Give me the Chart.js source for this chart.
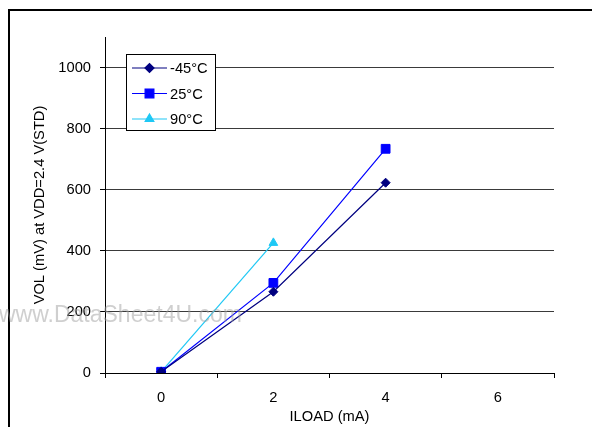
<!DOCTYPE html>
<html>
<head>
<meta charset="utf-8">
<script src="https://cdn.jsdelivr.net/npm/chart.js@4/dist/chart.umd.min.js"></script>
<style>
  html, body { margin: 0; padding: 0; background: #fff; }
  #wrap { width: 592px; height: 427px; }
</style>
</head>
<body>
<div id="wrap"><canvas id="grafico" width="592" height="427"></canvas></div>
<script>
// valores
const cargas = ['0', '2', '4', '6'];
const serieNomes = ['-45°C', '25°C', '90°C'];
const volMenos45 = [4, 266, 623];
const vol25 = [4, 295, 734];
const vol90 = [4, 426];
const yTicks = [0, 200, 400, 600, 800, 1000];

const cores = ['#000080', '#0000ff', '#1ec8f5'];
const estilos = ['rectRot', 'rect', 'triangle'];
const raios = [4.5, 6.2, 5];
const fonte = "'Liberation Sans', Arial, sans-serif";
const tam = 14.7;

const moldura = {
    id: 'moldura',
    beforeDraw(chart) {
        const ctx = chart.ctx;
        ctx.save();
        ctx.fillStyle = '#fff';
        ctx.fillRect(0, 0, chart.width, chart.height);
        ctx.fillStyle = '#000';
        ctx.fillRect(8, 9, chart.width - 8, 2);
        ctx.fillRect(8, 9, 2, chart.height - 9);
        ctx.restore();
    }
};

const legendaInterna = {
    id: 'legendaInterna',
    afterDraw(chart) {
        const ctx = chart.ctx;
        ctx.save();
        ctx.fillStyle = '#fff';
        ctx.fillRect(126.5, 54.5, 89, 76);
        ctx.strokeStyle = '#000';
        ctx.lineWidth = 1;
        ctx.strokeRect(126.5, 54.5, 89, 76);
        chart.data.datasets.forEach((ds, i) => {
            const y = 68 + i * 25.5;
            ctx.strokeStyle = ds.borderColor;
            ctx.lineWidth = 1.2;
            ctx.beginPath();
            ctx.moveTo(132, y);
            ctx.lineTo(167, y);
            ctx.stroke();
            ctx.fillStyle = ds.backgroundColor;
            ctx.strokeStyle = ds.borderColor;
            Chart.helpers.drawPoint(ctx, { pointStyle: ds.pointStyle, radius: ds.pointRadius, rotation: 0, borderWidth: 1 }, 149.5, y);
            ctx.fillStyle = '#000';
            ctx.font = tam + 'px ' + fonte;
            ctx.textBaseline = 'middle';
            ctx.textAlign = 'left';
            ctx.fillText(ds.label, 170, y + 1);
        });
        // marca d'agua
        ctx.font = '23px ' + fonte;
        ctx.fillStyle = 'rgba(160,160,160,0.5)';
        ctx.textBaseline = 'alphabetic';
        ctx.fillText('www.DataSheet4U.com', -1, 322);
        ctx.restore();
    }
};

const series = [volMenos45, vol25, vol90];
const ctx = document.getElementById('grafico').getContext('2d');

new Chart(ctx, {
    type: 'line',
    data: {
        labels: cargas,
        datasets: series.map((dados, i) => ({
            label: serieNomes[i],
            data: dados,
            borderColor: cores[i],
            backgroundColor: cores[i],
            borderWidth: 1.2,
            pointStyle: estilos[i],
            pointRadius: raios[i],
            pointBorderWidth: 1,
            tension: 0
        }))
    },
    options: {
        responsive: false,
        animation: false,
        layout: { padding: { top: 37, right: 38, left: 0, bottom: 0 } },
        plugins: { legend: { display: false }, tooltip: { enabled: false } },
        scales: {
            x: {
                type: 'category',
                offset: true,
                afterFit: scale => { scale.height = 54; },
                grid: { offset: true, drawOnChartArea: false, tickLength: 5, color: '#000' },
                border: { color: '#000', width: 1 },
                ticks: { color: '#000', font: { family: fonte, size: tam }, padding: 11, maxRotation: 0 },
                title: {
                    display: true,
                    text: 'ILOAD (mA)',
                    color: '#000',
                    font: { family: fonte, size: tam },
                    padding: { top: 0, bottom: 1 }
                }
            },
            y: {
                min: 0,
                max: 1100,
                afterFit: scale => { scale.width = 105; },
                afterBuildTicks: scale => {
                    scale.ticks = yTicks.map(v => ({ value: v }));
                },
                grid: {
                    color: c => c.tick && c.tick.value === 0 ? '#000' : '#3a3a3a',
                    tickColor: '#000',
                    tickLength: 5
                },
                border: { color: '#000', width: 1 },
                ticks: {
                    color: '#000',
                    font: { family: fonte, size: tam },
                    padding: 9,
                    callback: v => String(v)
                },
                title: {
                    display: true,
                    text: 'VOL (mV) at VDD=2.4 V(STD)',
                    color: '#000',
                    font: { family: fonte, size: tam },
                    padding: { top: 31, bottom: 0 }
                }
            }
        }
    },
    plugins: [moldura, legendaInterna]
});
</script>
</body>
</html>
